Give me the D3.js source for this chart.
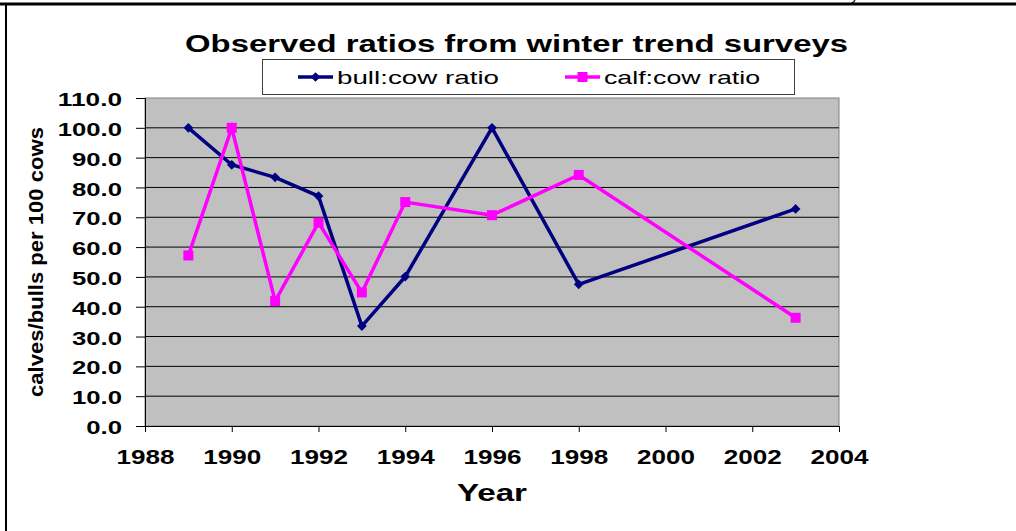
<!DOCTYPE html>
<html>
<head>
<meta charset="utf-8">
<script src="https://cdn.jsdelivr.net/npm/d3@7"></script>
<style>
  body { margin: 0; background: #fff; }
  text { font-family: "Liberation Sans", Arial, sans-serif; fill: #000; }
</style>
</head>
<body>
<script>
var years = [1989, 1990, 1991, 1992, 1993, 1994, 1996, 1998, 2003];
var bullCow = [100.0, 87.6, 83.4, 77.1, 33.5, 50.1, 100.0, 47.5, 72.8];
var calfCow = [57.2, 100.0, 41.9, 68.2, 44.8, 75.1, 70.7, 84.2, 36.3];
var xTicks = [1988, 1990, 1992, 1994, 1996, 1998, 2000, 2002, 2004];
var yTicks = [0, 10, 20, 30, 40, 50, 60, 70, 80, 90, 100, 110];
var seriesNames = ["bull:cow ratio", "calf:cow ratio"];

var chart = {
  width: 1016,
  height: 531,
  plot: {left: 145, right: 839, top: 98, bottom: 426},
  navy: "#000080",
  pink: "#ff00ff"
};

var svg = d3.select("body").append("svg")
            .attr("width", chart.width)
            .attr("height", chart.height);

var x = d3.scaleLinear().domain([1988, 2004]).range([chart.plot.left, chart.plot.right]);
var y = d3.scaleLinear().domain([0, 110]).range([chart.plot.bottom, chart.plot.top]);

// page frame (top rule and left rule of the document box)
svg.append("line").attr("x1", 0).attr("x2", chart.width).attr("y1", 4).attr("y2", 4)
   .attr("stroke", "#000").attr("stroke-width", 3);
svg.append("line").attr("x1", 6).attr("x2", 6).attr("y1", 4).attr("y2", chart.height)
   .attr("stroke", "#000").attr("stroke-width", 2);
// leftover glyph of the text above the frame
svg.append("text").attr("x", 851).attr("y", 0).style("font-size", "15px").text("y");

// plot background
svg.append("rect")
   .attr("x", chart.plot.left).attr("y", chart.plot.top)
   .attr("width", chart.plot.right - chart.plot.left)
   .attr("height", chart.plot.bottom - chart.plot.top)
   .attr("fill", "#c0c0c0").attr("stroke", "#808080").attr("stroke-width", 1);

// gridlines
svg.append("g").selectAll("line")
   .data(yTicks.filter(function(d) { return d > 0 && d < 110; }))
   .enter().append("line")
   .attr("x1", chart.plot.left).attr("x2", chart.plot.right)
   .attr("y1", function(d) { return y(d); })
   .attr("y2", function(d) { return y(d); })
   .attr("stroke", "#000").attr("stroke-width", 1);

// y axis
var yAxis = svg.append("g")
   .attr("transform", "translate(" + chart.plot.left + ",0)")
   .call(d3.axisLeft(y).tickValues(yTicks).tickSize(9).tickFormat(d3.format(".1f")));
yAxis.select(".domain").attr("stroke", "#000");
yAxis.selectAll(".tick line").attr("stroke", "#000");
yAxis.selectAll(".tick text")
     .attr("x", -23).attr("dy", "0.42em")
     .style("font-size", "18px").style("font-weight", "bold")
     .attr("textLength", function(d) { return (d3.format(".1f")(d).length - 1) * 14.2 + 7.4; })
     .attr("lengthAdjust", "spacingAndGlyphs");

// x axis
var xAxis = svg.append("g")
   .attr("transform", "translate(0," + chart.plot.bottom + ")")
   .call(d3.axisBottom(x).tickValues(xTicks).tickSize(6).tickFormat(d3.format("d")));
xAxis.select(".domain").attr("stroke", "#000");
xAxis.selectAll(".tick line").attr("stroke", "#000");
xAxis.selectAll(".tick text")
     .attr("y", 38).attr("dy", 0)
     .style("font-size", "20px").style("font-weight", "bold")
     .attr("textLength", 58).attr("lengthAdjust", "spacingAndGlyphs");

// series lines
var line = d3.line()
   .x(function(d) { return x(d[0]); })
   .y(function(d) { return y(d[1]); });

var bullData = d3.zip(years, bullCow);
var calfData = d3.zip(years, calfCow);

svg.append("path").datum(bullData).attr("d", line)
   .attr("fill", "none").attr("stroke", chart.navy).attr("stroke-width", 3.5)
   .attr("stroke-linejoin", "miter");
svg.append("path").datum(calfData).attr("d", line)
   .attr("fill", "none").attr("stroke", chart.pink).attr("stroke-width", 3.5)
   .attr("stroke-linejoin", "miter");

var diamond = d3.symbol().type(d3.symbolDiamond2).size(60);
svg.append("g").selectAll("path")
   .data(bullData).enter().append("path")
   .attr("d", diamond)
   .attr("transform", function(d) { return "translate(" + x(d[0]) + "," + y(d[1]) + ")"; })
   .attr("fill", chart.navy);

svg.append("g").selectAll("rect")
   .data(calfData).enter().append("rect")
   .attr("x", function(d) { return x(d[0]) - 5; })
   .attr("y", function(d) { return y(d[1]) - 5; })
   .attr("width", 10).attr("height", 10)
   .attr("fill", chart.pink);

// title
svg.append("text")
   .attr("x", 516.5).attr("y", 52)
   .attr("text-anchor", "middle")
   .style("font-size", "24px").style("font-weight", "bold")
   .attr("textLength", 663).attr("lengthAdjust", "spacingAndGlyphs")
   .text("Observed ratios from winter trend surveys");

// legend
var legend = svg.append("g");
legend.append("rect")
      .attr("x", 262.5).attr("y", 59.5).attr("width", 532).attr("height", 35)
      .attr("fill", "#fff").attr("stroke", "#404040").attr("stroke-width", 1);

var legendItems = [
  {name: seriesNames[0], color: chart.navy, x0: 298, tx: 337, w: 162, mark: "diamond"},
  {name: seriesNames[1], color: chart.pink, x0: 565, tx: 604, w: 156, mark: "square"}
];
legendItems.forEach(function(item) {
  legend.append("line")
        .attr("x1", item.x0).attr("x2", item.x0 + 35)
        .attr("y1", 77).attr("y2", 77)
        .attr("stroke", item.color).attr("stroke-width", 3.5);
  if (item.mark == "diamond") {
    legend.append("path").attr("d", diamond)
          .attr("transform", "translate(" + (item.x0 + 17.5) + ",77)")
          .attr("fill", item.color);
  } else {
    legend.append("rect")
          .attr("x", item.x0 + 12.5).attr("y", 72).attr("width", 10).attr("height", 10)
          .attr("fill", item.color);
  }
  legend.append("text")
        .attr("x", item.tx).attr("y", 84)
        .style("font-size", "19px")
        .attr("textLength", item.w).attr("lengthAdjust", "spacingAndGlyphs")
        .text(item.name);
});

// axis titles
svg.append("text")
   .attr("transform", "translate(43,262) rotate(-90)")
   .attr("text-anchor", "middle")
   .style("font-size", "20px").style("font-weight", "bold")
   .attr("textLength", 270).attr("lengthAdjust", "spacingAndGlyphs")
   .text("calves/bulls per 100 cows");

svg.append("text")
   .attr("x", 492).attr("y", 501)
   .attr("text-anchor", "middle")
   .style("font-size", "24px").style("font-weight", "bold")
   .attr("textLength", 70).attr("lengthAdjust", "spacingAndGlyphs")
   .text("Year");
</script>
</body>
</html>
